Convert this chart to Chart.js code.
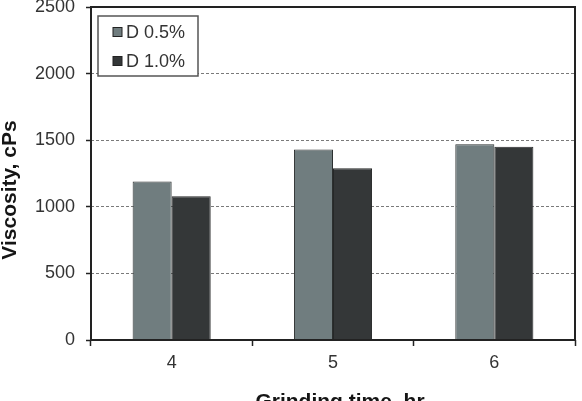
<!DOCTYPE html>
<html>
<head>
<meta charset="utf-8">
<script src="https://cdn.jsdelivr.net/npm/chart.js@4.4.1/dist/chart.umd.min.js"></script>
<style>
html,body{margin:0;padding:0;background:#fff;overflow:hidden;}
#wrap{width:582px;height:401px;}
</style>
</head>
<body>
<div id="wrap"><canvas id="viscChart"></canvas></div>
<script>
// grinding time (hr)
let categories = ["4","5","6"];
let seriesNames = ["D 0.5%","D 1.0%"];
let d05 = [1190,1430,1470];
let d10 = [1080,1290,1450];
let yTicks = [0,500,1000,1500,2000,2500];

let xTitle = "Grinding time, hr";
let yTitle = "Viscosity, cPs";

let fontFam = "'Liberation Sans', Arial, sans-serif";

// frame, legend box and axis titles
let extras = {
id:"extras",
afterDraw(chart){
let ctx = chart.ctx;
let a = chart.chartArea;
ctx.save();

ctx.strokeStyle = "#222";
ctx.lineWidth = 2;
ctx.strokeRect(a.left, a.top, a.right-a.left, a.bottom-a.top);

// legend
let lx = a.left+7, ly = a.top+9;
ctx.fillStyle = "#fff";
ctx.fillRect(lx, ly, 100, 60);
ctx.strokeStyle = "#555";
ctx.lineWidth = 1.5;
ctx.strokeRect(lx, ly, 100, 60);
ctx.font = "18px "+fontFam;
ctx.textBaseline = "middle";
chart.data.datasets.forEach((ds,i)=>{
let cy = ly+16+i*29;
ctx.fillStyle = ds.backgroundColor;
ctx.fillRect(lx+15, cy-4.5, 9, 9);
ctx.strokeStyle = "#222";
ctx.lineWidth = 1;
ctx.strokeRect(lx+15, cy-4.5, 9, 9);
ctx.fillStyle = "#333";
ctx.textAlign = "left";
ctx.fillText(ds.label, lx+28, cy+1);
});

// titles
ctx.fillStyle = "#151515";
ctx.font = "bold 21px "+fontFam;
ctx.textAlign = "center";
ctx.textBaseline = "alphabetic";
ctx.fillText(xTitle, 340, 408);

ctx.translate(16, 190);
ctx.rotate(-Math.PI/2);
ctx.fillText(yTitle, 0, 0);

ctx.restore();
}
};

new Chart(document.getElementById("viscChart"),{

type:"bar",

data:{
labels:categories,
datasets:[{
label:seriesNames[0],
data:d05,
backgroundColor:"#707d7f",
borderColor:"#2c3030",
borderWidth:1
},{
label:seriesNames[1],
data:d10,
backgroundColor:"#343738",
borderColor:"#262828",
borderWidth:1
}]
},

options:{
responsive:true,
maintainAspectRatio:false,
animation:false,
layout:{padding:{top:7,right:7,left:0,bottom:0}},
datasets:{bar:{categoryPercentage:0.484,barPercentage:1}},
plugins:{
legend:{display:false},
tooltip:{enabled:false}
},
scales:{
x:{
grid:{display:true,drawOnChartArea:false,offset:true,tickLength:6,tickColor:"#222",tickWidth:1.5},
border:{display:false},
ticks:{color:"#333",padding:6,font:{family:fontFam,size:18}},
afterFit(s){ s.height = 61; s.paddingLeft = 0; s.paddingRight = 0; }
},
y:{
min:0,
max:2500,
afterBuildTicks(s){ s.ticks = yTicks.map(v=>({value:v})); },
grid:{color:"#7a7a7a",lineWidth:1,tickLength:5,tickColor:"#222",tickWidth:1.5},
border:{display:false,dash:[3,2]},
ticks:{color:"#333",padding:11,font:{family:fontFam,size:18},callback:v=>String(v)},
afterFit(s){ s.width = 91; s.paddingTop = 0; s.paddingBottom = 0; }
}
}
},

plugins:[extras]

});
</script>
</body>
</html>
